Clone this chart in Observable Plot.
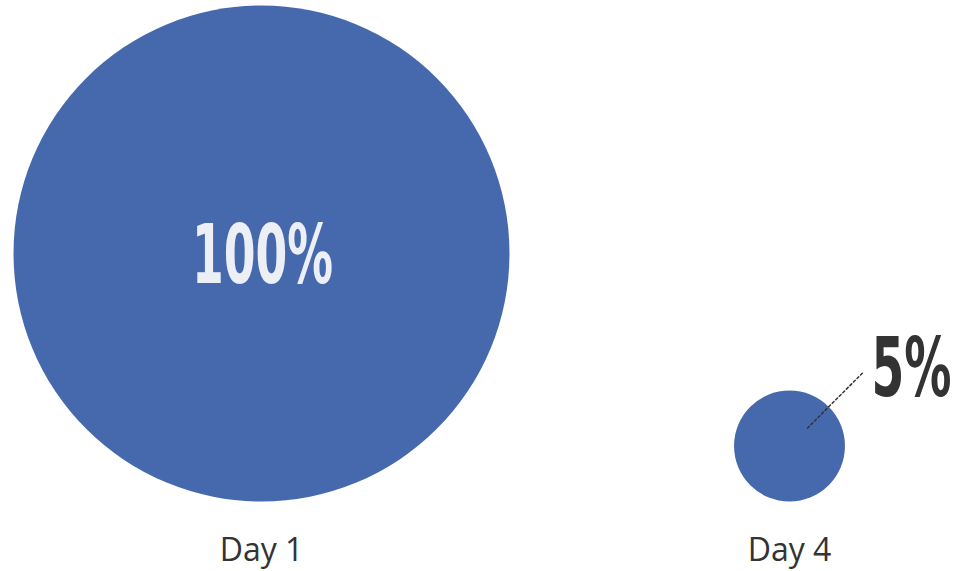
<!DOCTYPE html>
<html>
<head>
<meta charset="utf-8">
<script src="https://cdn.jsdelivr.net/npm/d3@7"></script>
<script src="https://cdn.jsdelivr.net/npm/@observablehq/plot@0.6"></script>
<style>
  html, body { margin: 0; padding: 0; background: #fff; }
  #chart svg { display: block; }
</style>
</head>
<body>
<div id="chart"></div>
<script>
const days = ["Day 1", "Day 4"];
const values = [100, 5];
const labels = ["100%", "5%"];

const data = days.map((d, i) => ({day: d, value: values[i], label: labels[i]}));
const blue = "#4669ad";

const chart = Plot.plot({
  width: 961,
  height: 571,
  margin: 0,
  x: {type: "point", domain: days, range: [261, 789], padding: 0, axis: null},
  y: {type: "sqrt", domain: [0, 100], range: [501, 253], axis: null},
  r: {type: "sqrt", domain: [0, 100], range: [0, 248]},
  marks: [
    Plot.dot(data, {x: "day", y: "value", r: "value", fill: blue, stroke: null}),
    Plot.vector(data.filter(d => d.value < 50), {
      x: "day", y: "value", anchor: "start", length: 78, rotate: 45,
      dx: 18, dy: -18, stroke: "#333", strokeWidth: 1.5, strokeDasharray: "2.5,2.5",
      shape: {draw(ctx, l) { ctx.moveTo(0, 0); ctx.lineTo(0, -l); }}
    }),
    Plot.text(data.filter(d => d.value >= 50), {
      x: "day", y: "value", text: "label", fill: "#eceff6",
      fontSize: 82, fontWeight: "bold", fontFamily: "DejaVu Sans Condensed, DejaVu Sans, sans-serif",
      dy: 3, dx: 1, className: "big-label"
    }),
    Plot.text(data.filter(d => d.value < 50), {
      x: "day", y: "value", text: "label", fill: "#333",
      fontSize: 82, fontWeight: "bold", fontFamily: "DejaVu Sans Condensed, DejaVu Sans, sans-serif",
      dx: 122, dy: -76, className: "small-label"
    }),
    Plot.text(data, {
      x: "day", text: "day", frameAnchor: "bottom", lineAnchor: "middle", dy: -21,
      fontSize: 32, fill: "#333", fontFamily: "Open Sans, Noto Sans, sans-serif",
      className: "day-label"
    })
  ]
});

document.getElementById("chart").appendChild(chart);

d3.select(chart).selectAll("g.big-label text").attr("textLength", 141).attr("lengthAdjust", "spacingAndGlyphs");
d3.select(chart).selectAll("g.small-label text").attr("textLength", 80).attr("lengthAdjust", "spacingAndGlyphs");
</script>
</body>
</html>
